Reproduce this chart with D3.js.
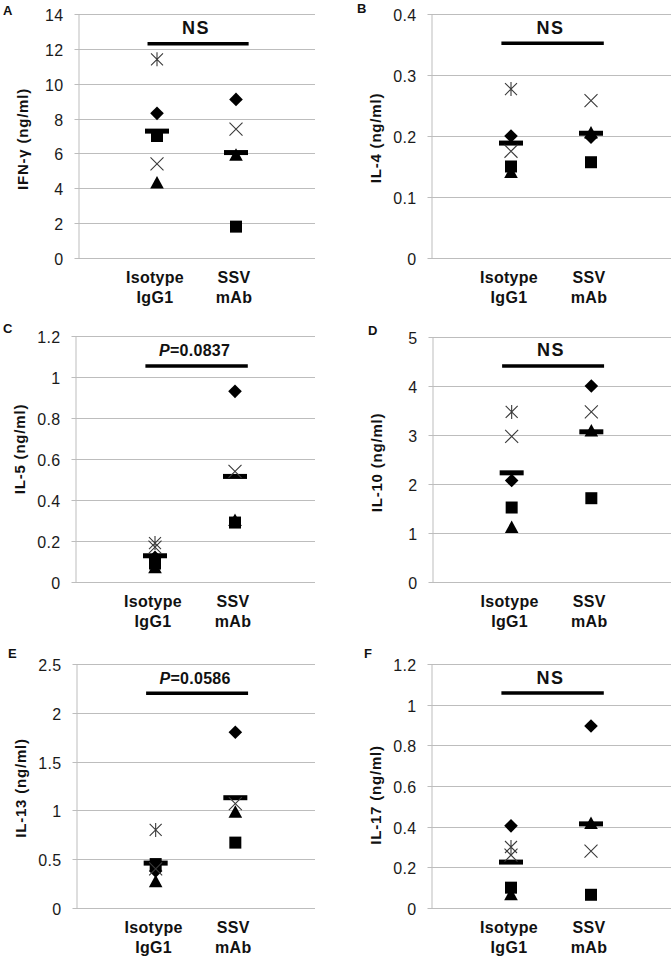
<!DOCTYPE html>
<html><head><meta charset="utf-8">
<script src="https://cdn.jsdelivr.net/npm/d3@7"></script>
<style>body{margin:0;background:#fff}svg{display:block}text{font-family:"Liberation Sans",Arial,Helvetica,sans-serif}</style>
</head><body><svg id="c" width="672" height="959"></svg>
<script>
// ---- data ----
const groupLine1 = ["Isotype", "SSV"];
const groupLine2 = ["IgG1", "mAb"];
const markerOrder = ["diamond", "square", "triangle", "x", "star"];

const ticksIFN = [0, 2, 4, 6, 8, 10, 12, 14];
const ticksIL4 = [0, 0.1, 0.2, 0.3, 0.4];
const ticksIL5 = [0, 0.2, 0.4, 0.6, 0.8, 1, 1.2];
const ticksIL10 = [0, 1, 2, 3, 4, 5];
const ticksIL13 = [0, 0.5, 1, 1.5, 2, 2.5];
const ticksIL17 = [0, 0.2, 0.4, 0.6, 0.8, 1, 1.2];

// values per marker (diamond, square, triangle, x, star); null = no sample
const ifnIso = [8.3, 7.0, 4.3, 5.4, 11.4];
const ifnSsv = [9.1, 1.8, 5.9, 7.4, null];
const il4Iso = [0.2, 0.15, 0.14, 0.175, 0.277];
const il4Ssv = [0.198, 0.157, 0.205, 0.258, null];
const il5Iso = [0.12, 0.09, 0.07, 0.17, 0.19];
const il5Ssv = [0.93, 0.29, 0.3, 0.54, null];
const il10Iso = [2.07, 1.52, 1.11, 2.97, 3.47];
const il10Ssv = [4.0, 1.71, 3.08, 3.47, null];
const il13Iso = [0.38, 0.45, 0.27, 0.4, 0.8];
const il13Ssv = [1.8, 0.67, 0.98, 1.07, null];
const il17Iso = [0.404, 0.1, 0.065, 0.26, 0.3];
const il17Ssv = [0.895, 0.065, 0.415, 0.28, null];

const yTitles = ["IFN-γ (ng/ml)", "IL-4 (ng/ml)", "IL-5 (ng/ml)", "IL-10 (ng/ml)", "IL-13 (ng/ml)", "IL-17 (ng/ml)"];
const panelLetters = ["A", "B", "C", "D", "E", "F"];
const sigLabels = ["NS", "NS", "P=0.0837", "NS", "P=0.0586", "NS"];
const sigLevels = [12.3, 0.352, 1.054, 4.41, 2.2, 1.057];

const allTicks = [ticksIFN, ticksIL4, ticksIL5, ticksIL10, ticksIL13, ticksIL17];
const allValues = [[ifnIso, ifnSsv], [il4Iso, il4Ssv], [il5Iso, il5Ssv], [il10Iso, il10Ssv], [il13Iso, il13Ssv], [il17Iso, il17Ssv]];

// ---- layout ----
const layout = [
  {x0: 78, x1: 315, y0: 14, y1: 258, titleDy: 3, lx: 3, ly: 15},
  {x0: 431, x1: 671, y0: 14, y1: 258, titleDy: 2, lx: 357, ly: 13},
  {x0: 75, x1: 315, y0: 336, y1: 582, titleDy: -10, lx: 3, ly: 333},
  {x0: 432, x1: 671, y0: 337, y1: 582, titleDy: 3, lx: 368, ly: 335},
  {x0: 76, x1: 315, y0: 664, y1: 908, titleDy: 2, lx: 8, ly: 658},
  {x0: 431, x1: 671, y0: 664, y1: 908, titleDy: 9, lx: 364, ly: 658}
];
const gridColor = "#bdbdbd";
const crossColor = "#3a3a3a";

const markerPath = {
  diamond: "M0,-6.8L6.8,0L0,6.8L-6.8,0Z",
  square: "M-6,-6H6V6H-6Z",
  triangle: "M0,-7L6.8,5.5L-6.8,5.5Z",
  x: "M-6.5,-6.5L6.5,6.5M-6.5,6.5L6.5,-6.5",
  star: "M-6,-6L6,6M-6,6L6,-6M0,-7V7"
};

const svg = d3.select("#c");

layout.forEach((L, i) => {
  const ticks = allTicks[i];
  const g = svg.append("g");
  const x = d3.scaleLinear().domain([0, 3]).range([L.x0, L.x1]);
  const y = d3.scaleLinear().domain([0, d3.max(ticks)]).range([L.y1, L.y0]);
  const cy = v => Math.round(y(v)) + 0.5;

  // gridlines
  g.append("g").selectAll("line").data(ticks).join("line")
    .attr("x1", L.x0).attr("x2", L.x1)
    .attr("y1", d => cy(d)).attr("y2", d => cy(d))
    .attr("stroke", gridColor).attr("stroke-width", 1);

  // y axis
  const ax = g.append("g").attr("transform", `translate(${Math.round(L.x0) + 0.5},0)`)
    .call(d3.axisLeft(y).tickValues(ticks).tickSize(4).tickSizeOuter(0).tickPadding(11).tickFormat(d => String(d)));
  ax.select(".domain").attr("stroke", gridColor);
  ax.selectAll(".tick line").attr("stroke", gridColor);
  ax.selectAll(".tick").attr("transform", d => `translate(0,${cy(d)})`);
  ax.selectAll(".tick text").attr("font-size", 16).attr("fill", "#1a1a1a")
    .attr("font-family", '"Liberation Sans",Arial,sans-serif').attr("letter-spacing", "0.3px").attr("dy", "0.4em");

  // category labels
  [0, 1].forEach(j => {
    const t = g.append("text").attr("text-anchor", "middle").attr("font-weight", "bold")
      .attr("font-size", 16).attr("letter-spacing", "0.3px").attr("fill", "#111");
    t.append("tspan").attr("x", x(j + 1) - 2).attr("y", L.y1 + 25).text(groupLine1[j]);
    t.append("tspan").attr("x", x(j + 1) - 2).attr("y", L.y1 + 45).text(groupLine2[j]);
  });

  // y title
  g.append("text")
    .attr("transform", `translate(${L.x0 - 50},${(L.y0 + L.y1) / 2 + L.titleDy}) rotate(-90)`)
    .attr("text-anchor", "middle").attr("font-weight", "bold").attr("font-size", 15)
    .attr("letter-spacing", "0.8px").attr("fill", "#111").text(yTitles[i]);

  // panel letter
  g.append("text").attr("x", L.lx).attr("y", L.ly).attr("font-weight", "bold")
    .attr("font-size", 13).attr("fill", "#111").text(panelLetters[i]);

  // points
  const filled = ["diamond", "square", "triangle"];
  const pts = [];
  allValues[i].forEach((arr, j) => {
    arr.forEach((v, k) => { if (v !== null) pts.push({j, v, m: markerOrder[k]}); });
  });
  g.append("g").selectAll("path").data(pts.filter(p => filled.includes(p.m))).join("path")
    .attr("d", p => markerPath[p.m])
    .attr("transform", p => `translate(${x(p.j + 1)},${y(p.v)})`)
    .attr("fill", "#000");

  // mean dashes
  const means = allValues[i].map((arr, j) => ({j, v: d3.mean(arr)}));
  g.append("g").selectAll("rect").data(means).join("rect")
    .attr("x", d => x(d.j + 1) - 12).attr("y", d => y(d.v) - 2.5)
    .attr("width", 24).attr("height", 5).attr("fill", "#000");

  g.append("g").selectAll("path").data(pts.filter(p => !filled.includes(p.m))).join("path")
    .attr("d", p => markerPath[p.m])
    .attr("transform", p => `translate(${x(p.j + 1)},${y(p.v)})`)
    .attr("fill", "none").attr("stroke", crossColor).attr("stroke-width", 1.1);

  // significance bar
  const bx0 = x(0.88), bx1 = x(2.16), by = y(sigLevels[i]);
  g.append("line").attr("x1", bx0).attr("x2", bx1).attr("y1", by).attr("y2", by)
    .attr("stroke", "#000").attr("stroke-width", 3.5);
  const lab = sigLabels[i];
  const isP = lab.startsWith("P=");
  const st = g.append("text").attr("x", (bx0 + bx1) / 2 - 2).attr("y", by - 9.5)
    .attr("text-anchor", "middle").attr("font-weight", "bold")
    .attr("font-size", isP ? 16 : 18).attr("letter-spacing", isP ? "0.3px" : "1.5px").attr("fill", "#111");
  if (isP) {
    st.append("tspan").attr("font-style", "italic").text("P");
    st.append("tspan").text(lab.slice(1));
  } else {
    st.text(lab);
  }
});
</script></body></html>
